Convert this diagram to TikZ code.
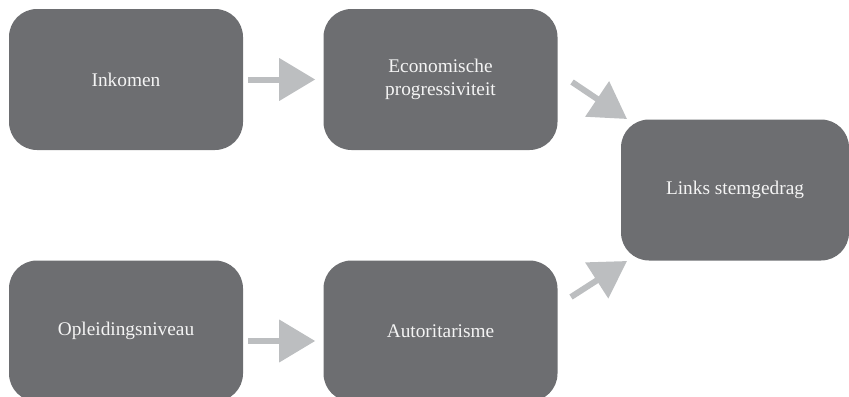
\documentclass[tikz,border=0pt]{standalone}
\usepackage{fontspec}
\setmainfont{Liberation Serif}
\usetikzlibrary{arrows.meta,calc}
\definecolor{boxgray}{HTML}{6D6E71}
\definecolor{arrowgray}{HTML}{BCBEC0}
\definecolor{txtwhite}{HTML}{F4F4F4}
\tikzset{
  boxnode/.style={fill=boxgray, draw=none, rounded corners=21pt, text=txtwhite,
    minimum width=175.5pt, minimum height=105.75pt, align=center,
    font=\fontsize{14.5}{17.5}\selectfont, inner sep=0pt},
  flow/.style={draw=arrowgray, line width=4.5pt,
    -{Triangle[length=27pt,width=31pt]}}
}
\begin{document}
\begin{tikzpicture}[x=0.75pt,y=-0.75pt]
\useasboundingbox (0,0) rectangle (849,396);
\node[boxnode] (ink) at (126,79.5) {Inkomen};
\node[boxnode] (eco) at (440.5,79.5) {Economische\\progressiviteit};
\node[boxnode, minimum width=171pt] (links) at (735,190) {Links stemgedrag};
\node[boxnode] (opl) at (126,331) {Opleidingsniveau};
\node[boxnode] (aut) at (440.5,331) {Autoritarisme};
\coordinate (d1s) at (572,82);
\coordinate (d1e) at (627,119);
\coordinate (d2s) at (571,297);
\coordinate (d2e) at (627,261);
\draw[flow, shorten <=3.75pt, shorten >=6pt] (ink) -- (eco);
\draw[flow] ([xshift=3.75pt,yshift=-7.5pt]opl.east) -- ([xshift=-6pt,yshift=-7.5pt]aut.west);
\draw[flow] (d1s) -- (d1e);
\draw[flow] (d2s) -- (d2e);
\end{tikzpicture}
\end{document}
